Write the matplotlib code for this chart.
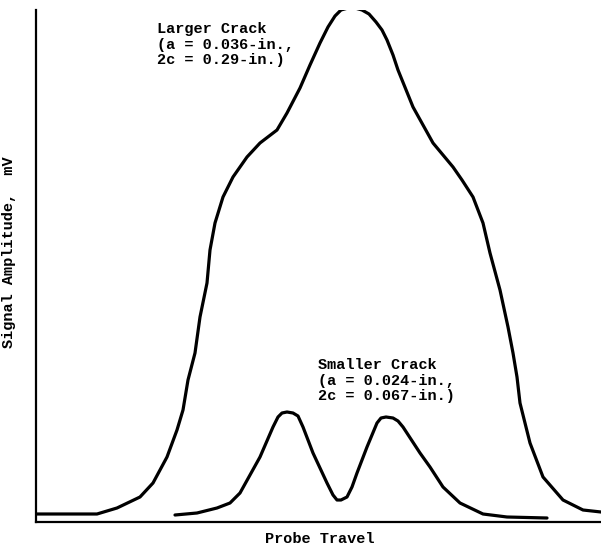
import matplotlib.pyplot as plt

# Traced signal traces (probe travel, amplitude) in arbitrary chart units
larger_travel = [0, 61, 81, 104, 117, 131, 141, 147, 152, 159, 164, 171, 174, 179,
                 187, 197, 211, 224, 241, 251, 264, 274, 284, 292, 299, 305, 312,
                 319, 326, 333, 340, 346, 351, 357, 362, 377, 397, 417, 426, 437,
                 447, 454, 464, 472, 477, 481, 484, 494, 507, 527, 547, 565]
larger_amp = [8, 8, 14, 25, 39, 65, 92, 112, 142, 169, 205, 239, 272, 299,
              325, 345, 365, 379, 392, 409, 434, 457, 479, 495, 506, 512, 514,
              514, 512, 508, 500, 492, 482, 467, 452, 415, 379, 355, 342, 325,
              299, 269, 232, 195, 169, 145, 119, 79, 45, 22, 12, 10]

smaller_travel = [139, 161, 181, 194, 204, 224, 237, 242, 246, 251, 257, 262, 267,
                  277, 291, 297, 301, 305, 311, 316, 321, 331, 341, 345, 350, 357,
                  362, 367, 384, 394, 407, 424, 447, 471, 511]
smaller_amp = [7, 9, 14, 19, 29, 65, 95, 105, 109, 110, 109, 106, 95,
               69, 39, 27, 22, 22, 25, 35, 49, 75, 99, 104, 105, 104,
               101, 95, 69, 55, 35, 19, 8, 5, 4]

larger_label = "Larger Crack\n(a = 0.036-in.,\n2c = 0.29-in.)"
smaller_label = "Smaller Crack\n(a = 0.024-in.,\n2c = 0.067-in.)"

mono = "Liberation Mono"

fig = plt.figure(figsize=(6.01, 5.5), dpi=100)
ax = fig.add_axes([36 / 601, 28 / 550, 565 / 601, 512 / 550])

ax.plot(larger_travel, larger_amp, color="black", lw=2.3,
        solid_joinstyle="round", solid_capstyle="round")
ax.plot(smaller_travel, smaller_amp, color="black", lw=2.3,
        solid_joinstyle="round", solid_capstyle="round")

ax.set_xlim(0, 565)
ax.set_ylim(0, 512)

ax.text(121, 500, larger_label, family=mono, fontsize=11, fontweight="bold",
        va="top", ha="left", linespacing=1.15)
ax.text(282, 164, smaller_label, family=mono, fontsize=11, fontweight="bold",
        va="top", ha="left", linespacing=1.15)

ax.set_xlabel("Probe Travel", family=mono, fontsize=11, fontweight="bold")
ax.xaxis.set_label_coords(284 / 565, -10 / 512)
ax.set_ylabel("Signal Amplitude,  mV", family=mono, fontsize=11, fontweight="bold")
ax.yaxis.set_label_coords(-20 / 565, 270 / 512)

ax.set_xticks([])
ax.set_yticks([])
for side in ["top", "right"]:
    ax.spines[side].set_visible(False)
for side in ["left", "bottom"]:
    ax.spines[side].set_linewidth(1.6)

fig.savefig("out.png", dpi=100)
